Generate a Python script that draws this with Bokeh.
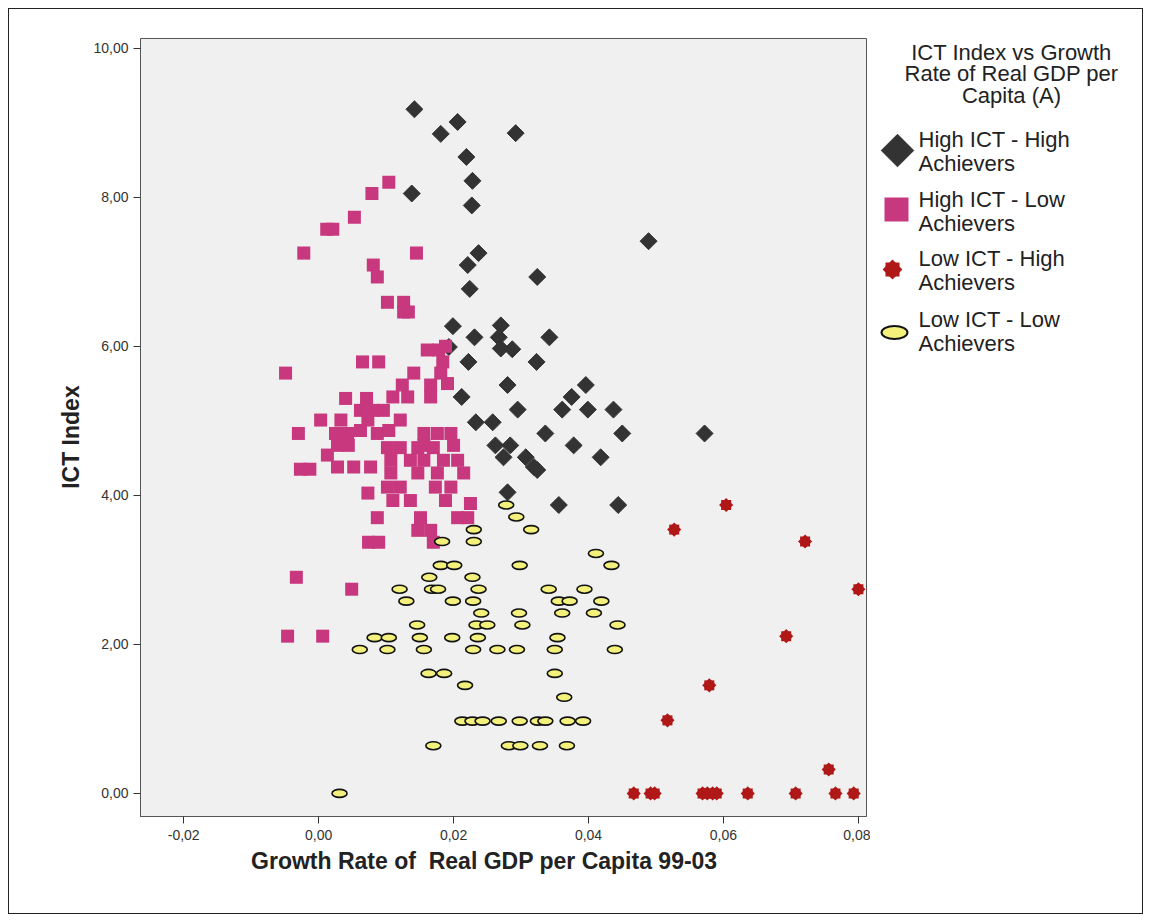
from bokeh.plotting import figure
from bokeh.models import Range1d, FixedTicker, CustomJSTickFormatter
from bokeh.layouts import row
from bokeh.embed import file_html
from bokeh.resources import INLINE
from bokeh.core.properties import value
import math

# ---------------- data ----------------
# High ICT - High Achievers (diamonds)
hh_x = [0.0142, 0.0206, 0.0181, 0.0292, 0.0219, 0.0228, 0.0227, 0.0138, 0.0237, 0.0221,
        0.0224, 0.0489, 0.0324, 0.0199, 0.0231, 0.0270, 0.0267, 0.0270, 0.0287, 0.0342,
        0.0193, 0.0222, 0.0323, 0.0280, 0.0396, 0.0375, 0.0361, 0.0399, 0.0437, 0.0295,
        0.0212, 0.0233, 0.0258, 0.0336, 0.0450, 0.0378, 0.0418, 0.0262, 0.0284, 0.0274,
        0.0307, 0.0319, 0.0324, 0.0280, 0.0356, 0.0444, 0.0572]
hh_y = [9.18, 9.01, 8.85, 8.86, 8.54, 8.22, 7.89, 8.05, 7.25, 7.09,
        6.77, 7.41, 6.93, 6.27, 6.12, 6.28, 6.12, 5.97, 5.96, 6.12,
        5.99, 5.79, 5.79, 5.48, 5.48, 5.32, 5.15, 5.15, 5.15, 5.15,
        5.32, 4.98, 4.98, 4.83, 4.83, 4.67, 4.51, 4.67, 4.67, 4.51,
        4.51, 4.38, 4.34, 4.04, 3.87, 3.87, 4.83]

# High ICT - Low Achievers (squares)
hl_x = [0.0104, 0.0079, 0.0053, 0.0012, 0.0021, -0.0022, 0.0145, 0.0081, 0.0087, 0.0102,
        0.0126, 0.0126, 0.0133, 0.0065, 0.0089, -0.0049, 0.0161, 0.0178, 0.0188, 0.0184,
        0.0181, 0.0191, 0.0141, 0.0124, 0.0166, 0.0110, 0.0132, 0.0166, 0.0040, 0.0071,
        0.0062, 0.0081, 0.0096, 0.0003, 0.0033, 0.0073, 0.0121, -0.0030, 0.0025, 0.0043,
        0.0062, 0.0087, 0.0104, 0.0156, 0.0176, 0.0196, 0.0028, 0.0044, 0.0156, 0.0200,
        0.0102, 0.0121, 0.0147, 0.0170, 0.0013, 0.0107, 0.0136, 0.0156, 0.0185, 0.0206,
        -0.0027, -0.0013, 0.0028, 0.0052, 0.0077, 0.0107, 0.0147, 0.0176, 0.0215, 0.0102,
        0.0121, 0.0173, 0.0196, 0.0073, 0.0110, 0.0136, 0.0188, 0.0225, 0.0087, 0.0151,
        0.0206, 0.0221, 0.0147, 0.0166, 0.0170, 0.0074, 0.0089, -0.0033, 0.0049, -0.0046,
        0.0006]
hl_y = [8.20, 8.05, 7.73, 7.57, 7.57, 7.25, 7.25, 7.09, 6.93, 6.59,
        6.59, 6.46, 6.46, 5.79, 5.79, 5.64, 5.95, 5.95, 6.00, 5.79,
        5.64, 5.50, 5.64, 5.48, 5.48, 5.32, 5.32, 5.32, 5.30, 5.30,
        5.14, 5.14, 5.14, 5.01, 5.01, 5.01, 5.01, 4.83, 4.83, 4.83,
        4.87, 4.83, 4.87, 4.83, 4.83, 4.83, 4.67, 4.67, 4.67, 4.67,
        4.64, 4.64, 4.64, 4.64, 4.54, 4.47, 4.47, 4.47, 4.47, 4.47,
        4.35, 4.35, 4.38, 4.38, 4.38, 4.30, 4.30, 4.30, 4.30, 4.11,
        4.11, 4.11, 4.11, 4.03, 3.93, 3.93, 3.93, 3.89, 3.70, 3.70,
        3.70, 3.70, 3.53, 3.53, 3.37, 3.37, 3.37, 2.90, 2.74, 2.11,
        2.11]

# Low ICT - High Achievers (stars)
lh_x = [0.0467, 0.0492, 0.0498, 0.0569, 0.0576, 0.0584, 0.0590, 0.0636, 0.0707, 0.0766,
        0.0793, 0.0527, 0.0604, 0.0721, 0.0800, 0.0693, 0.0579, 0.0517, 0.0756]
lh_y = [0.0, 0.0, 0.0, 0.0, 0.0, 0.0, 0.0, 0.0, 0.0, 0.0,
        0.0, 3.54, 3.87, 3.38, 2.74, 2.11, 1.45, 0.98, 0.32]

# Low ICT - Low Achievers (ellipses)
ll_x = [0.0183, 0.0230, 0.0230, 0.0181, 0.0201, 0.0164, 0.0228, 0.0120, 0.0168, 0.0177,
        0.0237, 0.0130, 0.0199, 0.0229, 0.0241, 0.0146, 0.0234, 0.0250, 0.0083, 0.0104,
        0.0150, 0.0198, 0.0236, 0.0061, 0.0102, 0.0156, 0.0229, 0.0163, 0.0186, 0.0217,
        0.0213, 0.0228, 0.0170, 0.0031, 0.0278, 0.0293, 0.0315, 0.0411, 0.0434, 0.0298,
        0.0341, 0.0394, 0.0356, 0.0372, 0.0419, 0.0297, 0.0361, 0.0408, 0.0302, 0.0443,
        0.0354, 0.0265, 0.0294, 0.0350, 0.0439, 0.0350, 0.0364, 0.0243, 0.0267, 0.0298,
        0.0325, 0.0336, 0.0369, 0.0392, 0.0282, 0.0299, 0.0328, 0.0368]
ll_y = [3.38, 3.54, 3.38, 3.06, 3.06, 2.90, 2.90, 2.74, 2.74, 2.74,
        2.74, 2.58, 2.58, 2.58, 2.42, 2.26, 2.26, 2.26, 2.09, 2.09,
        2.09, 2.09, 2.09, 1.93, 1.93, 1.93, 1.93, 1.61, 1.61, 1.45,
        0.97, 0.97, 0.64, 0.00, 3.87, 3.71, 3.54, 3.22, 3.06, 3.06,
        2.74, 2.74, 2.58, 2.58, 2.58, 2.42, 2.42, 2.42, 2.26, 2.26,
        2.09, 1.93, 1.93, 1.93, 1.93, 1.61, 1.29, 0.97, 0.97, 0.97,
        0.97, 0.97, 0.97, 0.97, 0.64, 0.64, 0.64, 0.64]

x_ticks = [-0.02, 0.0, 0.02, 0.04, 0.06, 0.08]
y_ticks = [0, 2, 4, 6, 8, 10]

x_title = "Growth Rate of\u00a0 Real GDP per Capita 99-03"
y_title = "ICT Index"
legend_title = "ICT Index vs Growth\nRate of Real GDP per\nCapita (A)"
group_labels = ["High ICT - High\nAchievers", "High ICT - Low\nAchievers",
                "Low ICT - High\nAchievers", "Low ICT - Low\nAchievers"]

# ---------------- styles ----------------
FONT = "Liberation Sans"
C_HH = "#333333"
C_HL = "#C8387E"
C_LH = "#B01818"
C_LL = "#F3F17C"

H = 904
W_MAIN = 861
W_LEG = 272
MB_TOP, MB_BOTTOM = 29, 97

p = figure(width=W_MAIN, height=H, output_backend="svg", toolbar_location=None,
           x_range=Range1d(-0.0264, 0.0812), y_range=Range1d(-0.31, 10.13),
           min_border_left=131, min_border_right=4,
           min_border_top=MB_TOP, min_border_bottom=MB_BOTTOM)
p.background_fill_color = "#F0F0F0"
p.border_fill_color = "white"
p.outline_line_color = "#555555"
p.outline_line_width = 1
p.grid.visible = False

fmt = CustomJSTickFormatter(code="return tick.toFixed(2).replace('.', ',');")
for ax, ticks in ((p.xaxis, x_ticks), (p.yaxis, y_ticks)):
    ax.ticker = FixedTicker(ticks=ticks)
    ax.formatter = fmt
    ax.minor_tick_line_color = None
    ax.major_tick_out = 7
    ax.major_tick_in = 0
    ax.major_tick_line_color = "#333333"
    ax.axis_line_color = "#555555"
    ax.major_label_text_font = FONT
    ax.major_label_text_font_size = "14px"
    ax.major_label_text_color = "#333333"
    ax.axis_label_text_font = FONT
    ax.axis_label_text_font_style = "bold"
    ax.axis_label_text_font_size = "23px"
    ax.axis_label_text_color = "#222222"
p.xaxis.axis_label = x_title + "\u00a0" * 6
p.yaxis.axis_label = y_title + "\u00a0" * 3
p.xaxis.major_label_standoff = 6
p.xaxis.axis_label_standoff = 5
p.yaxis.major_label_standoff = 5
p.yaxis.axis_label_standoff = 6

# glyphs
p.scatter(hh_x, hh_y, marker="square", size=12, angle=math.pi / 4,
          fill_color=C_HH, line_color=C_HH)
p.scatter(hl_x, hl_y, marker="square", size=13, fill_color=C_HL, line_color=None)
p.ellipse(ll_x, ll_y, width=15, height=8, width_units="screen", height_units="screen",
          fill_color=C_LL, line_color="#111111", line_width=1.6)
p.scatter(lh_x, lh_y, marker="square", size=10, fill_color=C_LH, line_color=None)
p.scatter(lh_x, lh_y, marker="square", size=10, angle=math.pi / 4,
          fill_color=C_LH, line_color=None)

# ---------------- legend panel (coordinates = page pixels) ----------------
lg = figure(width=W_LEG, height=H, output_backend="svg", toolbar_location=None,
            x_range=Range1d(870, 870 + W_LEG), y_range=Range1d(816, 38),
            x_axis_location=None, y_axis_location=None,
            min_border_left=0, min_border_right=0,
            min_border_top=MB_TOP, min_border_bottom=MB_BOTTOM)
lg.grid.visible = False
lg.outline_line_color = None
lg.background_fill_color = "white"
lg.border_fill_color = "white"

lg.text(x=[1011], y=[73], text=[legend_title], text_font=value(FONT), text_font_size="22px",
        text_align="center", text_baseline="middle", text_color="#222222",
        text_line_height=0.86)
item_y = [151, 211, 270, 331]
lg.text(x=[918] * 4, y=item_y, text=group_labels, text_font=value(FONT),
        text_font_size="22px", text_align="left", text_baseline="middle",
        text_color="#222222", text_line_height=0.95)
lg.scatter([897], [150], marker="square", size=23, angle=math.pi / 4,
           fill_color=C_HH, line_color=C_HH)
lg.scatter([896], [209], marker="square", size=24, fill_color=C_HL, line_color=None)
lg.scatter([892], [269], marker="square", size=14, fill_color=C_LH, line_color=None)
lg.scatter([892], [269], marker="square", size=14, angle=math.pi / 4,
           fill_color=C_LH, line_color=None)
lg.ellipse([894], [332], width=26, height=13, width_units="screen",
           height_units="screen", fill_color=C_LL, line_color="#111111", line_width=2)

layout = row(p, lg, styles={"border": "1px solid #222222", "margin": "8px"})

open("out.html", "w").write(file_html(layout, INLINE))
